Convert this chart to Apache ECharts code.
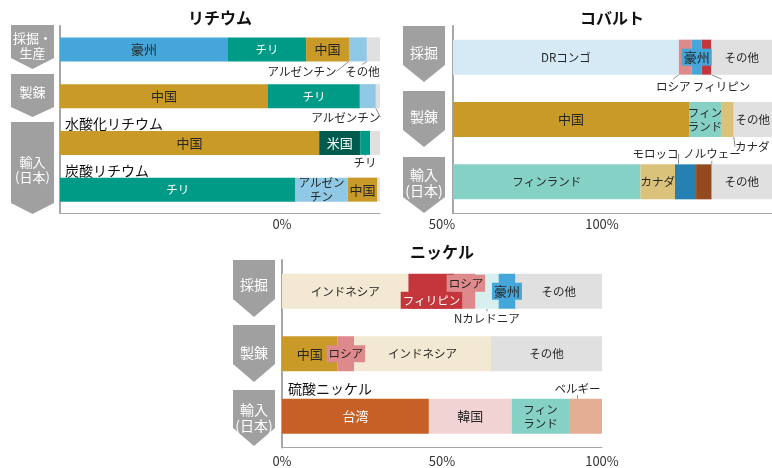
<!DOCTYPE html>
<html><head><meta charset="utf-8">
<script src="https://cdn.jsdelivr.net/npm/echarts@6/dist/echarts.min.js"></script>
<style>html,body{margin:0;padding:0;background:#fff}#c{width:772px;height:468px}</style>
</head><body><div id="c"></div>
<script>
// ---------- DATA ----------
const tickLabels = ['0%', '50%', '100%'];
// Lithium
const liRows = ['採掘・生産', '製錬', '水酸化リチウム', '炭酸リチウム'];
const liMineNames = ['豪州', 'チリ', '中国', 'アルゼンチン', 'その他'];
const liMineValues = [52.5, 24.4, 13.4, 5.6, 4.1];
const liRefNames = ['中国', 'チリ', 'アルゼンチン', 'その他'];
const liRefValues = [65.0, 28.7, 5.0, 1.3];
const liHydNames = ['中国', '米国', 'チリ', 'その他'];
const liHydValues = [81.0, 12.8, 3.1, 3.1];
const liCarbNames = ['チリ', 'アルゼンチン', '中国', 'その他'];
const liCarbValues = [73.6, 16.3, 9.3, 0.8];
// Cobalt
const coRows = ['採掘', '製錬', '輸入(日本)'];
const coMineNames = ['DRコンゴ', 'ロシア', '豪州', 'フィリピン', 'その他'];
const coMineValues = [70.8, 4.0, 3.2, 3.0, 19.0];
const coRefNames = ['中国', 'フィンランド', 'カナダ', 'その他'];
const coRefValues = [74.0, 10.0, 4.0, 12.0];
const coImpNames = ['フィンランド', 'カナダ', 'モロッコ', 'ノルウェー', 'その他'];
const coImpValues = [58.8, 10.8, 6.6, 4.9, 18.9];
// Nickel
const niRows = ['採掘', '製錬', '硫酸ニッケル'];
const niMineNames = ['インドネシア', 'フィリピン', 'ロシア', 'Nカレドニア', '豪州', 'その他'];
const niMineValues = [39.5, 14.4, 6.5, 7.3, 5.2, 27.1];
const niRefNames = ['中国', 'ロシア', 'インドネシア', 'その他'];
const niRefValues = [17.4, 5.1, 42.8, 34.7];
const niImpNames = ['台湾', '韓国', 'フィンランド', 'ベルギー'];
const niImpValues = [45.9, 25.9, 17.9, 10.3];

// ---------- STYLE ----------
const FONT = '"Noto Sans CJK JP", "Noto Sans", sans-serif';
const COLORS = {
  '豪州': '#45a6d9', 'チリ': '#009b86', '中国': '#c99a28', 'アルゼンチン': '#8fc9e6',
  'その他': '#e0e0e0', '米国': '#005a4d', 'DRコンゴ': '#d5eaf5', 'ロシア': '#de898b',
  'フィリピン': '#c5363c', 'フィンランド': '#86d1c5', 'カナダ': '#dbc27b', 'モロッコ': '#2581b1',
  'ノルウェー': '#944a1f', 'インドネシア': '#f3e8d2', 'Nカレドニア': '#d7efee',
  '台湾': '#c76026', '韓国': '#f1d3d3', 'ベルギー': '#e3ae93'
};
const KANJI_LABEL = {'豪州': 1, '中国': 1, '米国': 1, '台湾': 1, '韓国': 1};
const WHITE_TEXT = {'li-0-1':1,'li-1-1':1,'li-2-1':1,'li-3-0':1,'ni-0-1':1,'ni-2-0':1};
const labelCfg = {
  'li-0-3': {dx: -56, dy: 22, line: true},
  'li-0-4': {dx: -11, dy: 22, line: true},
  'li-1-2': {dx: -22, dy: 21, line: true},
  'li-1-3': {hide: true},
  'li-2-2': {dx: 0, dy: 20, line: true},
  'li-2-3': {hide: true},
  'li-3-1': {wrap: 'アルゼン\nチン'},
  'li-3-3': {hide: true},
  'co-0-1': {dx: -12, dy: 29, line: true},
  'co-0-2': {bg: true},
  'co-0-3': {dx: 15, dy: 29, line: true},
  'co-1-1': {wrap: 'フィン\nランド'},
  'co-1-2': {dx: 25, dy: 27, line: true},
  'co-2-2': {dx: -30, dy: -28, line: true},
  'co-2-3': {dx: 8, dy: -28, line: true},
  'ni-0-1': {dy: 9, bg: true},
  'ni-0-2': {dx: 1, dy: -8, bg: true},
  'ni-0-3': {dy: 27, line: true},
  'ni-0-4': {bg: true},
  'ni-1-1': {bg: true},
  'ni-2-2': {wrap: 'フィン\nランド'},
  'ni-2-3': {dx: -8, dy: -28, line: true}
};

const series = [];
function buildPanel(key, gi, rowNames, rowValues, barWidth) {
  rowNames.forEach((names, r) => {
    names.forEach((name, s) => {
      const id = key + '-' + r + '-' + s;
      const cfg = labelCfg[id] || {};
      const data = rowNames.map((_, i) => i === r ? rowValues[r][s] : '-');
      const white = WHITE_TEXT[id] === 1;
      const ser = {
        type: 'bar', name: name, stack: key, xAxisIndex: gi, yAxisIndex: gi,
        barWidth: barWidth, data: data, z: cfg.bg ? 3 : 2,
        itemStyle: {color: COLORS[name]},
        emphasis: {disabled: true},
        label: {
          show: !cfg.hide, position: 'inside',
          formatter: cfg.wrap ? cfg.wrap : name,
          color: white ? '#ffffff' : '#262626',
          fontFamily: FONT, fontSize: KANJI_LABEL[name] ? 13 : 11.5, lineHeight: 14,
          backgroundColor: cfg.bg ? COLORS[name] : 'transparent',
          padding: cfg.bg ? [2, 2, 1, 2] : 0
        }
      };
      if (cfg.dx !== undefined || cfg.dy !== undefined) {
        const dx = cfg.dx || 0, dy = cfg.dy || 0;
        ser.labelLine = {show: !!cfg.line, lineStyle: {color: '#8c8c8c', width: 1}};
        ser.labelLayout = function (p) {
          const res = {dx: dx, dy: dy};
          if (cfg.line) {
            const lr = p.labelRect, br = p.rect;
            const lx = lr.x + lr.width / 2 + dx;
            const ly = dy > 0 ? lr.y + dy + 1 : lr.y + lr.height + dy - 1;
            const tx = br.x + br.width / 2;
            const ty = dy > 0 ? br.y + br.height - 4 : br.y + 4;
            res.labelLinePoints = [[lx, ly], [lx, ly], [tx, ty]];
          }
          return res;
        };
      }
      series.push(ser);
    });
  });
}
buildPanel('li', 0, [liMineNames, liRefNames, liHydNames, liCarbNames],
  [liMineValues, liRefValues, liHydValues, liCarbValues], 24);
buildPanel('co', 1, [coMineNames, coRefNames, coImpNames],
  [coMineValues, coRefValues, coImpValues], 35);
buildPanel('ni', 2, [niMineNames, niRefNames, niImpNames],
  [niMineValues, niRefValues, niImpValues], 35);

function xAx(gi, showLabel, showLine) {
  return {
    type: 'value', gridIndex: gi, min: 0, max: 100, interval: 50,
    axisLine: {show: showLine, lineStyle: {color: '#a6a6a6', width: 1}},
    axisTick: {show: false}, splitLine: {show: false},
    axisLabel: {show: showLabel, margin: 7, color: '#333', fontSize: 13, fontFamily: FONT,
      formatter: v => tickLabels[Math.round(v / 50)]}
  };
}
function yAx(gi, cats) {
  return {
    type: 'category', gridIndex: gi, data: cats, inverse: true,
    axisLine: {show: true, lineStyle: {color: '#a6a6a6', width: 2}},
    axisTick: {show: false}, axisLabel: {show: false}
  };
}

const gray = '#a0a0a0';
function chevron(x0, x1, top, rb, tip, text, ty, fs) {
  const cx = (x0 + x1) / 2;
  return [
    {type: 'polygon', shape: {points: [[x0, top], [x1, top], [x1, rb], [cx, tip], [x0, rb]]},
      style: {fill: gray}, silent: true},
    {type: 'text', x: cx, y: ty, silent: true,
      style: {text: text, fill: '#fff', font: fs + 'px ' + FONT, align: 'center',
        verticalAlign: 'middle', lineHeight: fs + 2}}
  ];
}
function txt(x, y, text, size, bold, align) {
  return {type: 'text', x: x, y: y, silent: true,
    style: {text: text, fill: '#111', font: (bold ? 'bold ' : '') + size + 'px ' + FONT,
      align: align || 'left', verticalAlign: 'middle'}};
}

const graphic = [].concat(
  chevron(11, 54, 25, 58, 69, '採掘・\n生産', 46, 13),
  chevron(11, 54, 74, 107, 117, '製錬', 92, 13),
  chevron(11, 54, 122, 203, 214, '輸入\n(日本)', 170, 13),
  chevron(403, 445, 26, 65, 82, '採掘', 53, 14),
  chevron(403, 445, 91, 130, 147, '製錬', 117, 14),
  chevron(403, 445, 157, 197, 213, '輸入\n(日本)', 183, 14),
  chevron(233, 275, 260, 299, 317, '採掘', 285, 14),
  chevron(233, 275, 325, 364, 382, '製錬', 353, 14),
  chevron(233, 275, 390, 428, 446, '輸入\n(日本)', 418, 14),
  [
    txt(220, 18, 'リチウム', 16, true, 'center'),
    txt(612, 18, 'コバルト', 16, true, 'center'),
    txt(442, 252, 'ニッケル', 16, true, 'center'),
    txt(65, 124, liRows[2], 14),
    txt(65, 171, liRows[3], 14),
    txt(288, 389, niRows[2], 14)
  ]
);

const chart = echarts.init(document.getElementById('c'), null, {renderer: 'canvas'});
chart.setOption({
  animation: false,
  backgroundColor: '#ffffff',
  textStyle: {fontFamily: FONT},
  grid: [
    {left: 60, top: 26, width: 320, height: 187},
    {left: 453, top: 26, width: 319, height: 187},
    {left: 282, top: 260, width: 320, height: 187.5},
    {left: 282, top: 210, width: 320, height: 1}
  ],
  xAxis: [xAx(0, false, true), xAx(1, false, true), xAx(2, true, true), xAx(3, true, false)],
  yAxis: [yAx(0, liRows), yAx(1, coRows), yAx(2, niRows),
    {type: 'category', gridIndex: 3, data: [''], show: false}],
  series: series,
  graphic: graphic
});
</script></body></html>
